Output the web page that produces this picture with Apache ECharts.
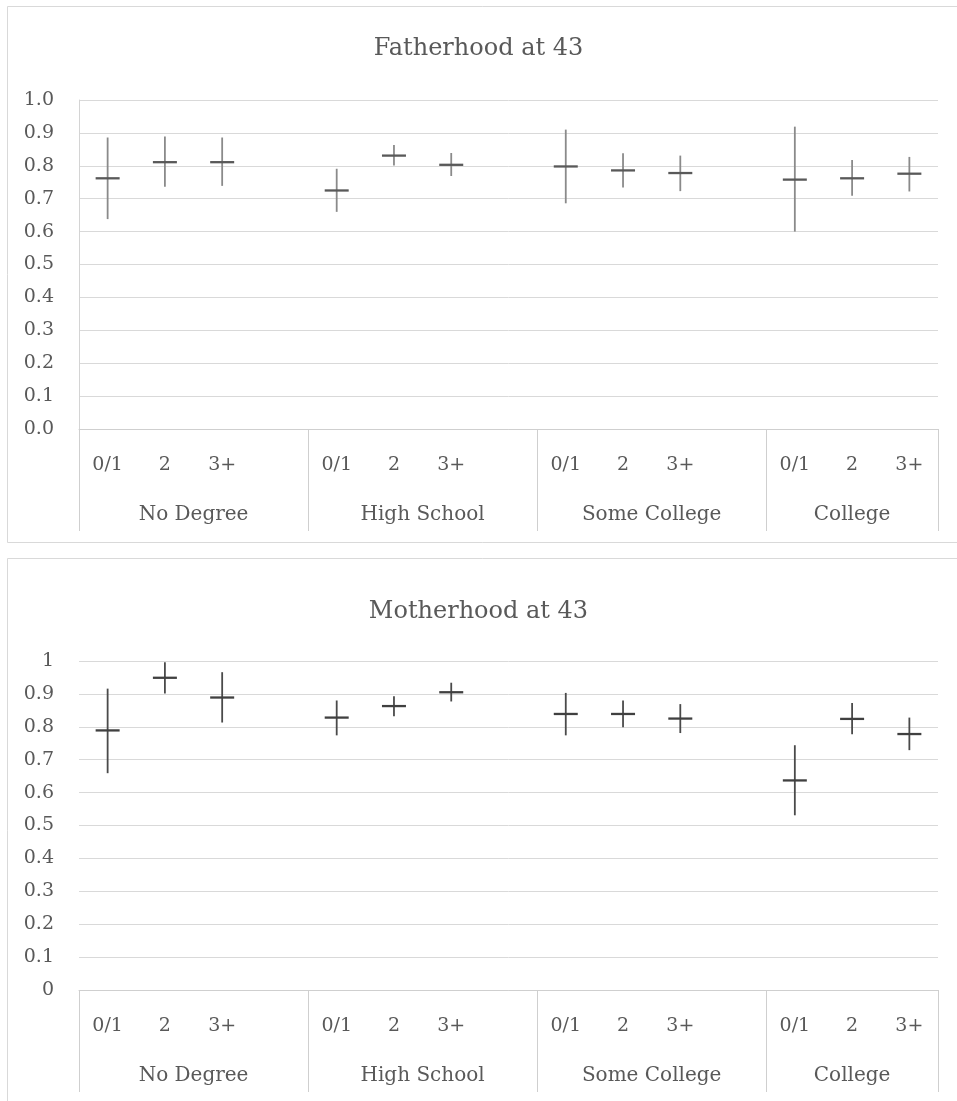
<!DOCTYPE html>
<html>
<head>
<meta charset="utf-8">
<script src="https://cdn.jsdelivr.net/npm/echarts@6/dist/echarts.min.js"></script>
<style>
html,body{margin:0;padding:0;background:#fff;}
#chart{width:957px;height:1101px;}
</style>
</head>
<body>
<div id="chart"></div>
<script>
// ---- data ----
const childCats = ['0/1', '2', '3+'];
const groups = ['No Degree', 'High School', 'Some College', 'College'];

const fatherTitle = 'Fatherhood at 43';
const fatherMean = [0.762, 0.811, 0.811, 0.725, 0.831, 0.803, 0.798, 0.786, 0.778, 0.758, 0.762, 0.776];
const fatherLow  = [0.638, 0.736, 0.739, 0.660, 0.801, 0.769, 0.686, 0.734, 0.723, 0.600, 0.709, 0.722];
const fatherHigh = [0.886, 0.889, 0.886, 0.791, 0.863, 0.839, 0.910, 0.838, 0.831, 0.919, 0.818, 0.827];
const fatherYLabels = ['0.0','0.1','0.2','0.3','0.4','0.5','0.6','0.7','0.8','0.9','1.0'];

const motherTitle = 'Motherhood at 43';
const motherMean = [0.789, 0.949, 0.889, 0.828, 0.863, 0.905, 0.839, 0.839, 0.825, 0.637, 0.824, 0.778];
const motherLow  = [0.659, 0.901, 0.813, 0.774, 0.832, 0.877, 0.774, 0.799, 0.781, 0.531, 0.777, 0.729];
const motherHigh = [0.916, 0.996, 0.966, 0.880, 0.893, 0.934, 0.903, 0.880, 0.869, 0.744, 0.872, 0.828];
const motherYLabels = ['0','0.1','0.2','0.3','0.4','0.5','0.6','0.7','0.8','0.9','1'];

// ---- build slot categories (3 per group + a blank gap between groups) ----
const slots = [];
const slotIndexOf = [];
const groupCenters = [];
const groupEdges = [0];
groups.forEach((g, gi) => {
  const start = slots.length;
  childCats.forEach(c => { slotIndexOf.push(slots.length); slots.push(c); });
  if (gi < groups.length - 1) slots.push('');
  const end = slots.length;
  groupEdges.push(end);
  groupCenters.push(gi < groups.length - 1 ? (start + end) / 2 : (start + end) / 2);
});
const nSlots = slots.length;

const FONT = '"DejaVu Serif", serif';
const TXT = '#595959';

function makeData(mean, low, high) {
  return mean.map((m, i) => [slotIndexOf[i], m, low[i], high[i]]);
}

function makeRender(vColor, hColor) {
  return function (params, api) {
    const x = api.value(0);
    const pm = api.coord([x, api.value(1)]);
    const pl = api.coord([x, api.value(2)]);
    const ph = api.coord([x, api.value(3)]);
    return {
      type: 'group',
      children: [
        { type: 'line', shape: { x1: pl[0], y1: pl[1], x2: ph[0], y2: ph[1] },
          style: { stroke: vColor, lineWidth: 1.8 } },
        { type: 'line', shape: { x1: pm[0] - 12, y1: pm[1], x2: pm[0] + 12, y2: pm[1] },
          style: { stroke: hColor, lineWidth: 2.3 } }
      ]
    };
  };
}

const grids = [
  { left: 79, right: 19, top: 100, height: 329 },
  { left: 79, right: 19, top: 661, height: 329 }
];

function catAxis(gi) {
  return {
    type: 'category', gridIndex: gi, data: slots, position: 'bottom',
    boundaryGap: true,
    axisLine: { show: true, lineStyle: { color: '#cfcfcf', width: 1 } },
    axisTick: { show: false },
    axisLabel: { interval: 0, margin: 36, verticalAlign: 'middle', color: TXT, fontFamily: FONT, fontSize: 19 },
    splitLine: { show: false }
  };
}
function groupAxis(gi) {
  return {
    type: 'value', gridIndex: gi, min: 0, max: nSlots, position: 'bottom', offset: 0,
    axisLine: { show: false },
    axisTick: { show: true, customValues: groupEdges, length: 102, lineStyle: { color: '#cfcfcf', width: 1 } },
    axisLabel: {
      show: true, customValues: groupCenters, margin: 86, verticalAlign: 'middle',
      color: TXT, fontFamily: FONT, fontSize: 20, showMinLabel: true, showMaxLabel: true,
      formatter: v => { const k = groupCenters.findIndex(c => Math.abs(c - v) < 1e-6); return k >= 0 ? groups[k] : ''; }
    },
    splitLine: { show: false }
  };
}
function valAxis(gi, labels, showLine) {
  return {
    type: 'value', gridIndex: gi, min: 0, max: 1, interval: 0.1,
    axisLine: { show: showLine, lineStyle: { color: '#d4d4d4', width: 1 } },
    axisTick: { show: false },
    axisLabel: { margin: 25, color: TXT, fontFamily: FONT, fontSize: 19,
      formatter: v => labels[Math.round(v * 10)] },
    splitLine: { show: true, lineStyle: { color: '#d9d9d9', width: 1 } }
  };
}

const option = {
  backgroundColor: '#fff',
  animation: false,
  title: [
    { text: fatherTitle, left: 'center', top: 32, textStyle: { fontFamily: FONT, fontSize: 24, fontWeight: 'normal', color: TXT } },
    { text: motherTitle, left: 'center', top: 595, textStyle: { fontFamily: FONT, fontSize: 24, fontWeight: 'normal', color: TXT } }
  ],
  graphic: [
    { type: 'rect', shape: { x: 7.5, y: 6.5, width: 960, height: 536 }, style: { fill: 'none', stroke: '#d9d9d9', lineWidth: 1 }, z: -1 },
    { type: 'rect', shape: { x: 7.5, y: 558.5, width: 960, height: 600 }, style: { fill: 'none', stroke: '#d9d9d9', lineWidth: 1 }, z: -1 }
  ],
  grid: grids,
  xAxis: [catAxis(0), groupAxis(0), catAxis(1), groupAxis(1)],
  yAxis: [valAxis(0, fatherYLabels, true), valAxis(1, motherYLabels, false)],
  series: [
    { type: 'custom', xAxisIndex: 0, yAxisIndex: 0, renderItem: makeRender('#8a8a8a', '#595959'),
      encode: { x: 0, y: [1, 2, 3] }, data: makeData(fatherMean, fatherLow, fatherHigh) },
    { type: 'custom', xAxisIndex: 2, yAxisIndex: 1, renderItem: makeRender('#4a4a4a', '#404040'),
      encode: { x: 0, y: [1, 2, 3] }, data: makeData(motherMean, motherLow, motherHigh) }
  ]
};

const chart = echarts.init(document.getElementById('chart'), null, { renderer: 'canvas' });
chart.setOption(option);
</script>
</body>
</html>
